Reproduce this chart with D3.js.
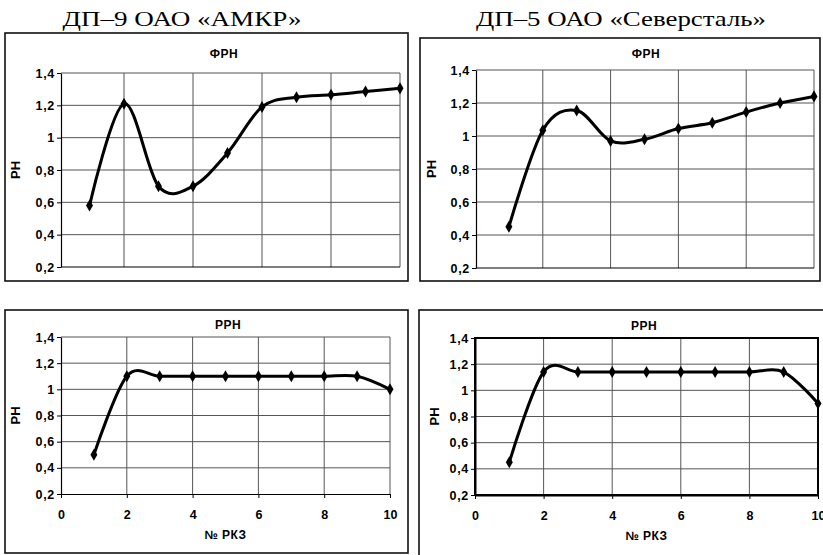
<!DOCTYPE html>
<html>
<head>
<meta charset="utf-8">
<script src="https://cdn.jsdelivr.net/npm/d3@7"></script>
<style>
  body { margin: 0; background: #fff; }
  svg text { font-family: "Liberation Sans", Arial, sans-serif; }
</style>
</head>
<body>
<div id="chart-area"></div>
<script>

// Data
var rkz = [1, 2, 3, 4, 5, 6, 7, 8, 9, 10];
var frnAmkr  = [0.58, 1.21, 0.70, 0.70, 0.905, 1.19, 1.25, 1.265, 1.285, 1.305];
var frnSever = [0.45, 1.035, 1.155, 0.97, 0.98, 1.045, 1.08, 1.145, 1.20, 1.24];
var rrnAmkr  = [0.50, 1.10, 1.10, 1.10, 1.10, 1.10, 1.10, 1.10, 1.10, 1.00];
var rrnSever = [0.45, 1.14, 1.14, 1.14, 1.14, 1.14, 1.14, 1.14, 1.14, 0.90];
var yTicks = [0.2, 0.4, 0.6, 0.8, 1, 1.2, 1.4];
var xTicks = [0, 2, 4, 6, 8, 10];
var xGrid = [2, 4, 6, 8, 10];
var headers = ["ДП–9 ОАО «АМКР»", "ДП–5 ОАО «Северсталь»"];

// SVG Size
var width = 823,
		height = 555;

var svg = d3.select("#chart-area").append("svg")
	.attr("width", width)
	.attr("height", height);

var fmt = function(d) { return String(+d.toFixed(1)).replace(".", ","); };

// layout of the four panels
var panels = [
	{ values: frnAmkr, title: "ФРН", frame: [5, 33, 408, 281], plot: [61, 73, 400, 267],
	  xr: [55, 400], tx: 224, ty: 58, lx: 20, xAxis: false, bold: false },
	{ values: frnSever, title: "ФРН", frame: [420, 38, 820, 281], plot: [476, 70, 814, 268],
	  xr: [475, 814], tx: 646, ty: 58, lx: 436, xAxis: false, bold: false },
	{ values: rrnAmkr, title: "РРН", frame: [5, 310, 408, 553], plot: [61, 337, 390, 494],
	  xr: [61, 390], tx: 228, ty: 329, lx: 20, xAxis: true, bold: false },
	{ values: rrnSever, title: "РРН", frame: [419, 310, 840, 570], plot: [475, 338, 818, 495],
	  xr: [475, 818], tx: 644, ty: 330, lx: 439, xAxis: true, bold: true }
];

// headers
var headerLayout = [{ x: 182, len: 239 }, { x: 621, len: 290 }];
svg.selectAll("text.header")
	.data(headers)
	.enter()
	.append("text")
	.attr("class", "header")
	.attr("x", function(d, i) { return headerLayout[i].x; })
	.attr("y", 26)
	.attr("text-anchor", "middle")
	.attr("textLength", function(d, i) { return headerLayout[i].len; })
	.attr("lengthAdjust", "spacingAndGlyphs")
	.style("font-family", "'Liberation Serif', 'Times New Roman', serif")
	.style("font-size", "22px")
	.text(function(d) { return d; });

panels.forEach(function(p) {
	var g = svg.append("g");

	var x = d3.scaleLinear().domain([0, 10]).range(p.xr);
	var y = d3.scaleLinear().domain([0.2, 1.4]).range([p.plot[3], p.plot[1]]);

	// outer frame
	g.append("rect")
		.attr("x", p.frame[0]).attr("y", p.frame[1])
		.attr("width", p.frame[2] - p.frame[0]).attr("height", p.frame[3] - p.frame[1])
		.attr("fill", "#fff").attr("stroke", "#111").attr("stroke-width", 1.6);

	// horizontal grid
	g.selectAll("line.hg")
		.data(yTicks.slice(1))
		.enter()
		.append("line")
		.attr("x1", p.plot[0]).attr("x2", p.plot[2])
		.attr("y1", function(d) { return y(d); }).attr("y2", function(d) { return y(d); })
		.attr("stroke", "#555").attr("stroke-width", 1);

	// vertical grid
	g.selectAll("line.vg")
		.data(xGrid)
		.enter()
		.append("line")
		.attr("x1", function(d) { return x(d); }).attr("x2", function(d) { return x(d); })
		.attr("y1", p.plot[1]).attr("y2", p.plot[3])
		.attr("stroke", "#555").attr("stroke-width", 1);

	if (p.bold) {
		g.append("rect")
			.attr("x", p.plot[0]).attr("y", p.plot[1])
			.attr("width", p.plot[2] - p.plot[0]).attr("height", p.plot[3] - p.plot[1])
			.attr("fill", "none").attr("stroke", "#000").attr("stroke-width", 2);
	}

	// y axis
	var yAxis = g.append("g")
		.attr("transform", "translate(" + p.plot[0] + ",0)")
		.call(d3.axisLeft(y).tickValues(yTicks).tickSize(4).tickSizeOuter(0).tickPadding(2).tickFormat(fmt));
	yAxis.select(".domain").attr("stroke", "#000").attr("stroke-width", p.bold ? 2 : 1.2);
	yAxis.selectAll("text")
		.style("font-size", "12.5px").style("font-weight", "bold")
		.style("letter-spacing", "0.7px").attr("fill", "#000");

	// x axis (bottom)
	if (p.xAxis) {
		var xAxis = g.append("g")
			.attr("transform", "translate(0," + p.plot[3] + ")")
			.call(d3.axisBottom(x).tickValues(xTicks).tickSize(4).tickSizeOuter(0).tickPadding(12).tickFormat(fmt));
		xAxis.select(".domain").attr("stroke", "#000").attr("stroke-width", p.bold ? 2 : 1.2);
		xAxis.selectAll("text")
			.style("font-size", "12.5px").style("font-weight", "bold")
			.attr("fill", "#000");

		g.append("text")
			.attr("x", (p.plot[0] + p.plot[2]) / 2)
			.attr("y", p.plot[3] + 45)
			.attr("text-anchor", "middle")
			.style("font-size", "12px").style("font-weight", "bold")
			.style("letter-spacing", "0.4px")
			.text("№ РКЗ");
	} else {
		g.append("line")
			.attr("x1", p.plot[0]).attr("x2", p.plot[2])
			.attr("y1", p.plot[3]).attr("y2", p.plot[3])
			.attr("stroke", "#000").attr("stroke-width", 1.2);
	}

	// panel title
	g.append("text")
		.attr("x", p.tx).attr("y", p.ty)
		.attr("text-anchor", "middle")
		.style("font-size", "12px").style("font-weight", "bold")
		.style("letter-spacing", "0.5px")
		.text(p.title);

	// y label
	g.append("text")
		.attr("transform", "translate(" + p.lx + "," + ((p.plot[1] + p.plot[3]) / 2) + ") rotate(-90)")
		.attr("text-anchor", "middle")
		.style("font-size", "13px").style("font-weight", "bold")
		.text("РН");

	// smoothed line
	var pts = rkz.map(function(d, i) { return [d, p.values[i]]; });
	var line = d3.line()
		.x(function(d) { return x(d[0]); })
		.y(function(d) { return y(d[1]); })
		.curve(d3.curveCatmullRom.alpha(0));

	g.append("path")
		.datum(pts)
		.attr("d", line)
		.attr("fill", "none")
		.attr("stroke", "#000")
		.attr("stroke-width", 3)
		.attr("stroke-linejoin", "round");

	g.selectAll("path.marker")
		.data(pts)
		.enter()
		.append("path")
		.attr("class", "marker")
		.attr("transform", function(d) { return "translate(" + x(d[0]) + "," + y(d[1]) + ")"; })
		.attr("d", d3.symbol().type(d3.symbolDiamond).size(42))
		.attr("fill", "#000");
});

</script>
</body>
</html>
